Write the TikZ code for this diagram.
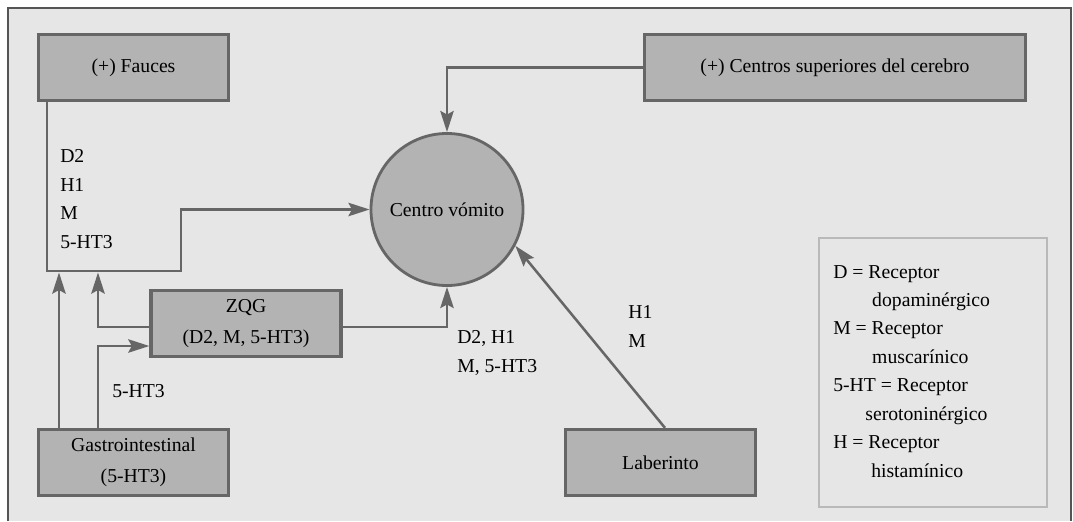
\documentclass[tikz,border=0pt]{standalone}
\usepackage{fontspec}
\setmainfont{Liberation Serif}
\usetikzlibrary{arrows.meta}
\usetikzlibrary{positioning}
\usetikzlibrary{calc}
\definecolor{panel}{RGB}{230,230,230}
\definecolor{boxfill}{RGB}{179,179,179}
\definecolor{boxline}{RGB}{102,102,102}
\definecolor{keyline}{RGB}{185,185,185}
\definecolor{frameline}{RGB}{85,85,85}
\tikzset{
	site/.style={rectangle, fill=boxfill, draw=boxline, line width=2.3pt,
		minimum width=4.75cm, minimum height=1.65cm, inner sep=0pt,
		align=center, font=\fontsize{14}{22}\selectfont},
	route/.style={draw=boxline, line width=1.8pt,
		-{Stealth[length=15pt,width=9.5pt,inset=2.5pt]}},
	rlabel/.style={anchor=base west, inner sep=0pt, align=left,
		font=\fontsize{14}{20.2}\selectfont},
}

\begin{document}
\begin{tikzpicture}[x=0.025cm, y=-0.025cm]
	\useasboundingbox (0,0) rectangle (1073,521);
	
	% panel
	\fill[panel] (8,8) rectangle (1071,521);
	\draw[frameline, line width=1.4pt] (8,521) -- (8,8) -- (1071,8) -- (1071,521);
	
	% top left
	\node[site] (fauces) at (133.5,67.5) {(+) Fauces};
	% top right
	\node[site, minimum width=9.525cm] (centros) at (835,67.5) {(+) Centros superiores del cerebro};
	% centre
	\node[circle, fill=boxfill, draw=boxline, line width=2pt, minimum size=3.8cm,
		inner sep=0pt, font=\fontsize{14}{21}\selectfont] (vomito) at (447,209.5) {Centro vómito};
	% middle left
	\node[site] (zqg) at (246,323.5) {ZQG\\(D2, M, 5-HT3)};
	% bottom left
	\node[site] (gastro) at (133.5,462.5) {Gastrointestinal\\(5-HT3)};
	% bottom middle
	\node[site] (laberinto) at (660.5,462.5) {Laberinto};
	
	% bends
	\coordinate (faucesdrop) at (47,271);
	\coordinate (faucesturn) at (181,271);
	\coordinate (gastrotipA) at (59,272.5);
	\coordinate (gastrotipB) at (98,272.5);
	
	% arrows
	\draw[route] (centros.west) -| (vomito.north);
	\draw[route] (fauces.south -| faucesdrop) -- (faucesdrop) -- (faucesturn) |- (vomito.west);
	\draw[route] (gastro.north -| gastrotipA) -- (gastrotipA);
	\draw[route] ($(zqg.west)+(0,3.5)$) -| (gastrotipB);
	\draw[route] (gastro.north -| gastrotipB) |- ($(zqg.west)+(0,22.5)$);
	\draw[route] ($(zqg.east)+(0,3.5)$) -| (vomito.south);
	\draw[route] ($(laberinto.north)+(4.5,0)$) -- (vomito.-28.5);
	
	% receptors (anchored at the last line)
	\node[rlabel] (faucesrec) at (60,248) {D2\\H1\\M\\5-HT3};
	\node[rlabel] (gastrorec) at (112,397) {5-HT3};
	\node[rlabel] (zqgrec) at (457,372) {D2, H1\\M, 5-HT3};
	\node[rlabel] (laberintorec) at (628,347) {H1\\M};
	
	% legend
	\node[draw=keyline, line width=2pt, minimum width=5.7cm, minimum height=6.725cm,
		inner sep=0pt] (legend) at (933,372.5) {};
	\node[rlabel] (legendtext) at (833,477) {D = Receptor\\
		\hspace*{27.7pt}dopaminérgico\\
		M = Receptor\\
		\hspace*{27.7pt}muscarínico\\
		5-HT = Receptor\\
		\hspace*{22.8pt}serotoninérgico\\
		H = Receptor\\
		\hspace*{27pt}histamínico};
	
\end{tikzpicture}
\end{document}
